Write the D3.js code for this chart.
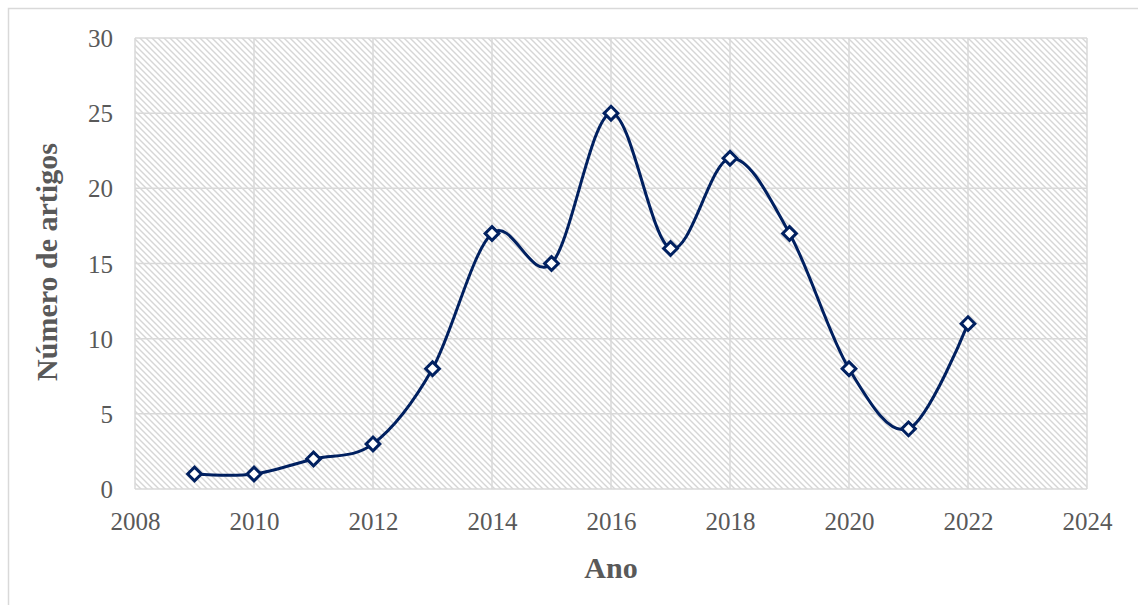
<!DOCTYPE html>
<html>
<head>
<meta charset="utf-8">
<script src="https://cdn.jsdelivr.net/npm/d3@7"></script>
<style>
  html, body { margin: 0; padding: 0; background: #fff; }
  svg { display: block; }
</style>
</head>
<body>
<svg id="chart" width="1138" height="605"></svg>
<script>
// Articles published per year
const years = [2009, 2010, 2011, 2012, 2013, 2014, 2015, 2016, 2017, 2018, 2019, 2020, 2021, 2022];
const articles = [1, 1, 2, 3, 8, 17, 15, 25, 16, 22, 17, 8, 4, 11];
const xTicks = [2008, 2010, 2012, 2014, 2016, 2018, 2020, 2022, 2024];
const yTicks = [0, 5, 10, 15, 20, 25, 30];

const svg = d3.select("#chart");
const W = 1138, H = 605;
const plot = { left: 135, right: 1087, top: 38, bottom: 489 };

// Outer chart frame
svg.append("rect")
  .attr("x", 8.5).attr("y", 8.5)
  .attr("width", W + 10).attr("height", H + 10)
  .attr("fill", "#fff").attr("stroke", "#d9d9d9").attr("stroke-width", 1.5);

// Diagonal hatch fill for plot area
const defs = svg.append("defs");
const pat = defs.append("pattern")
  .attr("id", "hatch").attr("patternUnits", "userSpaceOnUse")
  .attr("width", 6).attr("height", 6);
pat.append("rect").attr("width", 6).attr("height", 6).attr("fill", "#fff");
pat.append("path")
  .attr("d", "M-1,-1 L7,7 M-4,2 L4,10 M2,-4 L10,4")
  .attr("stroke", "#d6d6d6").attr("stroke-width", 1.4);

const x = d3.scaleLinear().domain([2008, 2024]).range([plot.left, plot.right]);
const y = d3.scaleLinear().domain([0, 30]).range([plot.bottom, plot.top]);

svg.append("rect")
  .attr("x", plot.left).attr("y", plot.top)
  .attr("width", plot.right - plot.left).attr("height", plot.bottom - plot.top)
  .attr("fill", "url(#hatch)");

// Gridlines
const grid = svg.append("g").attr("stroke", "#d9d9d9").attr("stroke-width", 1.5);
grid.selectAll("line.h").data(yTicks).join("line")
  .attr("x1", plot.left).attr("x2", plot.right)
  .attr("y1", d => y(d)).attr("y2", d => y(d));
grid.selectAll("line.v").data(xTicks).join("line")
  .attr("y1", plot.top).attr("y2", plot.bottom)
  .attr("x1", d => x(d)).attr("x2", d => x(d));

// Axes (labels only, lines handled by the grid)
const serif = "'Liberation Serif', 'Times New Roman', serif";
const xAxis = svg.append("g")
  .attr("transform", `translate(0,${plot.bottom})`)
  .call(d3.axisBottom(x).tickValues(xTicks).tickFormat(d3.format("d")).tickSize(0));
const yAxis = svg.append("g")
  .attr("transform", `translate(${plot.left},0)`)
  .call(d3.axisLeft(y).tickValues(yTicks).tickSize(0).tickPadding(22));
[xAxis, yAxis].forEach(a => {
  a.select(".domain").remove();
  a.selectAll("text")
    .attr("font-family", serif).attr("font-size", 25).attr("fill", "#595959");
});
xAxis.selectAll("text").attr("y", 41).attr("dy", 0);
yAxis.selectAll("text").attr("dy", "0.34em");

// Axis titles
svg.append("text")
  .attr("x", (plot.left + plot.right) / 2).attr("y", 578)
  .attr("text-anchor", "middle")
  .attr("font-family", serif).attr("font-size", 30).attr("font-weight", "bold")
  .attr("fill", "#595959").text("Ano");
svg.append("text")
  .attr("transform", `translate(57,262) rotate(-90)`)
  .attr("text-anchor", "middle")
  .attr("font-family", serif).attr("font-size", 30).attr("font-weight", "bold")
  .attr("fill", "#595959").text("Número de artigos");

// Smoothed series line
const data = years.map((yr, i) => ({ year: yr, value: articles[i] }));
const line = d3.line()
  .x(d => x(d.year)).y(d => y(d.value))
  .curve(d3.curveCardinal.tension(0));
svg.append("path")
  .datum(data)
  .attr("d", line)
  .attr("fill", "none").attr("stroke", "#002060").attr("stroke-width", 3);

// Diamond markers
const diamond = d3.symbol().type(d3.symbolDiamond2).size(120);
svg.append("g").selectAll("path").data(data).join("path")
  .attr("transform", d => `translate(${x(d.year)},${y(d.value)})`)
  .attr("d", diamond)
  .attr("fill", "#fff").attr("stroke", "#002060").attr("stroke-width", 3);
</script>
</body>
</html>
